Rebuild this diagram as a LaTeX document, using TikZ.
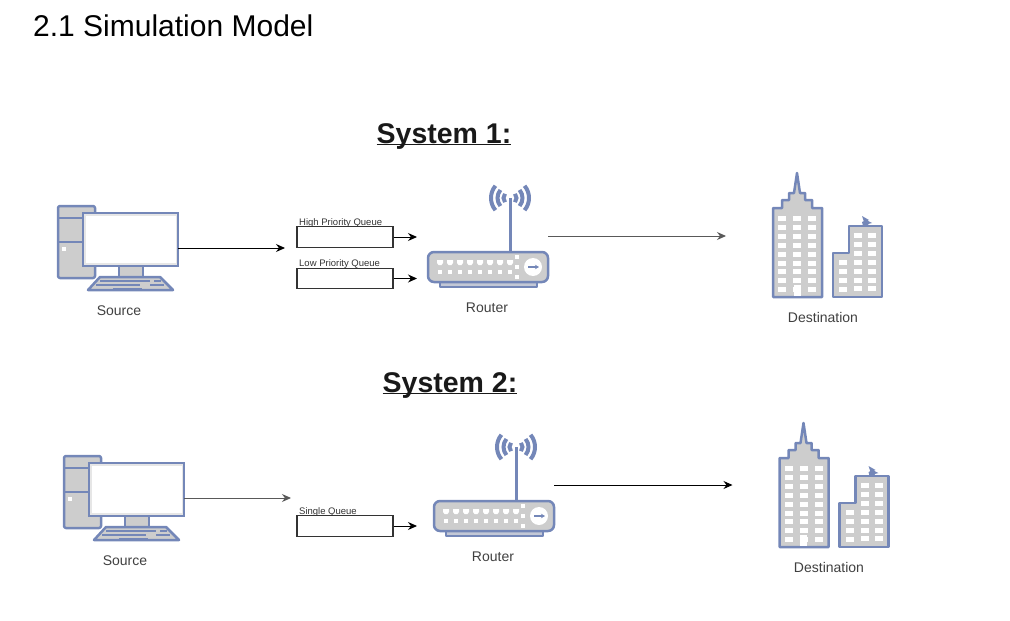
\documentclass[tikz,border=0pt]{standalone}
\usepackage{fontspec}
\usetikzlibrary{arrows.meta}
\setmainfont{Liberation Sans}
\definecolor{iconblue}{HTML}{7487B8}
\definecolor{icongray}{HTML}{CDCDCD}
\definecolor{wiredark}{HTML}{333333}
\tikzset{
  icon/.style={draw=iconblue, fill=icongray, line width=2.5pt, line join=round},
  queue/.style={draw=wiredark, line width=1.1pt, fill=white, minimum width=96pt, minimum height=20.5pt, inner sep=0pt},
  qlabel/.style={font=\fontsize{9.5}{9.5}\selectfont, text=wiredark, anchor=base west, inner sep=0pt},
  caption/.style={font=\fontsize{14}{14}\selectfont, text=black!75},
  title/.style={font=\fontsize{28.5}{28.5}\selectfont\bfseries, text=black!90, inner sep=0pt, anchor=base},
  wire/.style={-{Stealth[length=9pt, width=8pt]}, line width=1pt},
  computer/.pic={
    \draw[icon, rounded corners=2pt] (0,0) rectangle (37,72);
    \draw[icon] (0,12) -- (37,12) (0,36) -- (37,36);
    \fill[white] (4,41) rectangle (8,45);
    \draw[icon] (61,60) rectangle (85,71);
    \draw[icon] (30,84) -- (42,71) -- (102,71) -- (115,84) -- cycle;
    \draw[iconblue, line width=1.5pt] (42,75) -- (92,75) (38,79) -- (82,79) (55,82.5) -- (84,82.5) (96,75) -- (103,75) (92,79) -- (106,79);
    \draw[draw=iconblue, fill=icongray!50, line width=2.5pt] (25,7) rectangle (120,60);
    \fill[white] (27.5,9.5) rectangle (117.5,57);
    \coordinate (-out) at (120,42);
  },
  router/.pic={
    \draw[iconblue, line width=3pt] (82,0) -- (82,-54);
    \foreach \r in {6.5,12.5,19} {
      \draw[iconblue, line width=4pt] (82,-54) ++(40:\r) arc[start angle=40, end angle=-40, radius=\r];
      \draw[iconblue, line width=4pt] (82,-54) ++(140:\r) arc[start angle=140, end angle=220, radius=\r];
    }
    \draw[icon, fill=icongray!60!iconblue!70] (12,30) rectangle (109,35);
    \draw[icon, rounded corners=6pt] (0,0) rectangle (120,30);
    \foreach \a in {0,...,7} {
      \fill[white] (9+10*\a,8) -- (15+10*\a,8) -- (15+10*\a,11) -- (13.5+10*\a,13) -- (10.5+10*\a,13) -- (9+10*\a,11) -- cycle;
      \fill[white] (10+10*\a,18) rectangle (14+10*\a,22);
    }
    \foreach \b in {5,15,25} \fill[white] (87,\b-2) rectangle (91,\b+2);
    \fill[white] (105,15) circle (9);
    \draw[iconblue, line width=1.5pt, -{Stealth[length=4pt, width=4.5pt]}] (100,15) -- (111,15);
    \coordinate (-out) at (120,-16);
  },
  offices/.pic={
    \draw[icon] (0,124) -- (0,35) -- (9,35) -- (9,27) -- (16,27) -- (16,20) -- (21,20) -- (24,0) -- (27,20) -- (32,20) -- (32,27) -- (39,27) -- (39,35) -- (49,35) -- (49,124) -- cycle;
    \foreach \x in {9,24,39} \foreach \a in {0,...,8}
      \fill[white] (\x-4,43+8.9*\a) rectangle (\x+4,48+8.9*\a);
    \fill[white] (20.5,112) rectangle (27.5,123);
    \draw[icon] (60,124) -- (60,80) -- (76,80) -- (76,53) -- (109,53) -- (109,124) -- cycle;
    \foreach \x in {85,99} \foreach \a in {0,...,6}
      \fill[white] (\x-4,60+8.9*\a) rectangle (\x+4,65+8.9*\a);
    \foreach \a in {0,...,3}
      \fill[white] (66,87+8.9*\a) rectangle (74,92+8.9*\a);
    \fill[iconblue] (89,49) -- (93,47) -- (99,50) -- (95,51) -- (96,53) -- (90,53) -- cycle (89,43) -- (96,47) -- (91,49) -- cycle;
    \coordinate (-in) at (-47,63);
  },
}
\begin{document}
\begin{tikzpicture}[x=1pt, y=-1pt]
  \useasboundingbox (0,0) rectangle (1010,621);
  \node[anchor=west, inner sep=0pt, font=\fontsize{30}{30}\selectfont] (heading) at (33,26) {2.1 Simulation Model};

  % first system
  \node[title] (sys1) at (444,143) {\underline{\smash{System 1:}}};
  \pic (src1) at (58,206) {computer};
  \node[caption] (src1lbl) at (119,311) {Source};
  \node[queue] (hiq) at (345,237) {};
  \node[queue] (loq) at (345,278.5) {};
  \node[qlabel] (hilbl) at (299,225) {High Priority Queue};
  \node[qlabel] (lolbl) at (299,266) {Low Priority Queue};
  \pic (rt1) at (428,252) {router};
  \node[caption] (rt1lbl) at (487,308) {Router};
  \pic (dst1) at (773,173) {offices};
  \node[caption] (dst1lbl) at (823,317) {Destination};
  \coordinate (a1) at (285,248);
  \coordinate (hiend) at (417,237);
  \coordinate (loend) at (417,278.5);
  \draw[wire] (src1-out) -- (a1);
  \draw[wire] (hiq) -- (hiend);
  \draw[wire] (loq) -- (loend);
  \draw[wire, draw=black!65] (rt1-out) -- (dst1-in);

  % second system
  \node[title] (sys2) at (450,392) {\underline{\smash{System 2:}}};
  \pic (src2) at (64,456) {computer};
  \node[caption] (src2lbl) at (125,561) {Source};
  \node[queue] (sq) at (345,526) {};
  \node[qlabel] (sqlbl) at (299,514) {Single Queue};
  \pic (rt2) at (434,501) {router};
  \node[caption] (rt2lbl) at (493,557) {Router};
  \pic (dst2) at (779.5,423) {offices};
  \node[caption] (dst2lbl) at (829,567) {Destination};
  \coordinate (a2) at (291,498);
  \coordinate (sqend) at (417,526);
  \draw[wire, draw=black!65] (src2-out) -- (a2);
  \draw[wire] (sq) -- (sqend);
  \draw[wire] (rt2-out) -- (rt2-out -| dst2-in);
\end{tikzpicture}
\end{document}
